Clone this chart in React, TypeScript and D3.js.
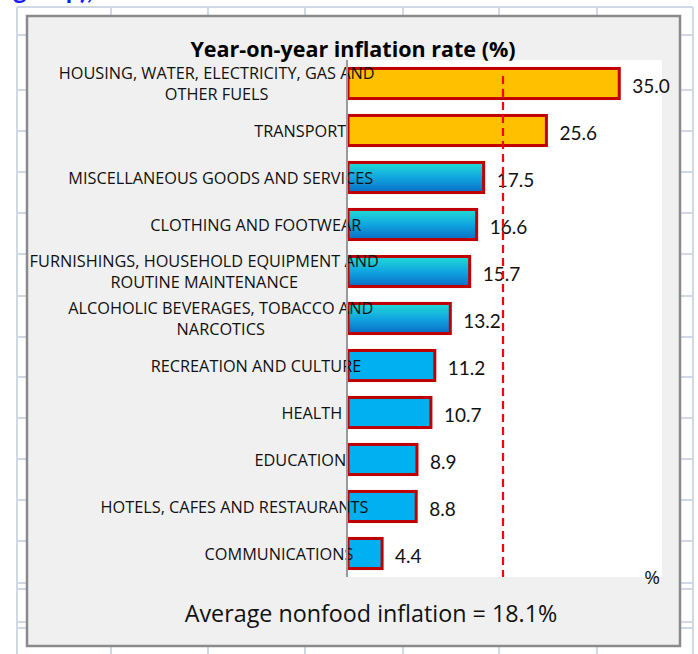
import React, { useEffect, useRef } from "react";
import * as d3 from "d3";

// ---------- data ----------
const categories = [
  "HOUSING, WATER, ELECTRICITY, GAS AND OTHER FUELS",
  "TRANSPORT",
  "MISCELLANEOUS GOODS AND SERVICES",
  "CLOTHING AND FOOTWEAR",
  "FURNISHINGS, HOUSEHOLD EQUIPMENT AND ROUTINE MAINTENANCE",
  "ALCOHOLIC BEVERAGES, TOBACCO AND NARCOTICS",
  "RECREATION AND CULTURE",
  "HEALTH",
  "EDUCATION",
  "HOTELS, CAFES AND RESTAURANTS",
  "COMMUNICATIONS",
];
const categoryLines = [
  ["HOUSING, WATER, ELECTRICITY, GAS AND", "OTHER FUELS"],
  ["TRANSPORT"],
  ["MISCELLANEOUS GOODS AND SERVICES"],
  ["CLOTHING AND FOOTWEAR"],
  ["FURNISHINGS, HOUSEHOLD EQUIPMENT AND", "ROUTINE MAINTENANCE"],
  ["ALCOHOLIC BEVERAGES, TOBACCO AND", "NARCOTICS"],
  ["RECREATION AND CULTURE"],
  ["HEALTH"],
  ["EDUCATION"],
  ["HOTELS, CAFES AND RESTAURANTS"],
  ["COMMUNICATIONS"],
];
const values = [35.0, 25.6, 17.5, 16.6, 15.7, 13.2, 11.2, 10.7, 8.9, 8.8, 4.4];
const barGroups = [
  "gold", "gold",
  "gradient", "gradient", "gradient", "gradient",
  "solid", "solid", "solid", "solid", "solid",
];
const referenceLineValue = 20;
const xDomain = [0, 40];
const chartTitle = "Year-on-year inflation rate (%)";
const footnote = "Average nonfood inflation = 18.1%";
const unitLabel = "%";
const headerText = "group),";

// ---------- layout ----------
const W = 698;
const H = 654;
const sheetCols = [17, 111, 208, 305, 403, 499, 597, 693];
const sheetRows = [7, 35, 90, 131, 172, 213, 254, 296, 337, 377, 418, 459, 500, 541, 583, 589, 622, 628];
const frame = { x: 27, y: 16, w: 653, h: 630 };
const plot = { left: 348, right: 662, top: 60, bottom: 577 };
const FONT = "'Open Sans', Lato, sans-serif";
const NUMFONT = "Lato, 'Open Sans', sans-serif";

export default function App() {
  const ref = useRef<SVGSVGElement | null>(null);

  useEffect(() => {
    const svg = d3.select(ref.current);
    svg.selectAll("*").remove();

    const defs = svg.append("defs");
    const grad = defs
      .append("linearGradient")
      .attr("id", "barGrad")
      .attr("x1", 0).attr("y1", 0).attr("x2", 0).attr("y2", 1);
    grad.append("stop").attr("offset", "0%").attr("stop-color", "#22dcd4");
    grad.append("stop").attr("offset", "50%").attr("stop-color", "#10a6e0");
    grad.append("stop").attr("offset", "100%").attr("stop-color", "#0a6cc6");

    // spreadsheet grid background
    const grid = svg.append("g").attr("stroke", "#d0d8e6").attr("stroke-width", 2);
    sheetCols.forEach((c) =>
      grid.append("line").attr("x1", c).attr("x2", c).attr("y1", sheetRows[0]).attr("y2", H)
    );
    sheetRows.forEach((r) =>
      grid.append("line").attr("x1", sheetCols[0]).attr("x2", sheetCols[sheetCols.length - 1]).attr("y1", r).attr("y2", r)
    );

    // header text (cut off at top, as in the reference)
    svg
      .append("text")
      .attr("x", 13)
      .attr("y", -1)
      .attr("font-family", NUMFONT)
      .attr("font-weight", 700)
      .attr("font-size", 26)
      .attr("fill", "#1a1aff")
      .text(headerText);

    // chart frame
    svg
      .append("rect")
      .attr("x", frame.x)
      .attr("y", frame.y)
      .attr("width", frame.w)
      .attr("height", frame.h)
      .attr("fill", "#f0f0f0")
      .attr("stroke", "#8a8a8a")
      .attr("stroke-width", 2.5);

    // plot area
    svg
      .append("rect")
      .attr("x", plot.left - 2)
      .attr("y", plot.top)
      .attr("width", plot.right - plot.left + 2)
      .attr("height", plot.bottom - plot.top)
      .attr("fill", "#ffffff");

    const x = d3.scaleLinear().domain(xDomain).range([plot.left, plot.left + 7.75 * (xDomain[1] - xDomain[0])]);
    const y = d3
      .scaleBand<string>()
      .domain(categories)
      .range([plot.top, plot.bottom])
      .paddingInner(0.36)
      .paddingOuter(0.18);

    const fillFor = (g: string) =>
      g === "gold" ? "#ffc000" : g === "gradient" ? "url(#barGrad)" : "#00b0f0";

    // bars
    svg
      .append("g")
      .selectAll("rect")
      .data(values)
      .join("rect")
      .attr("x", x(0))
      .attr("y", (_, i) => y(categories[i])!)
      .attr("width", (d) => x(d) - x(0))
      .attr("height", y.bandwidth())
      .attr("fill", (_, i) => fillFor(barGroups[i]))
      .attr("stroke", "#c00000")
      .attr("stroke-width", 3);

    // value labels
    svg
      .append("g")
      .selectAll("text")
      .data(values)
      .join("text")
      .attr("x", (d) => x(d) + 13)
      .attr("y", (_, i) => y(categories[i])! + y.bandwidth() / 2 + 2)
      .attr("dominant-baseline", "central")
      .attr("font-family", NUMFONT)
      .attr("font-size", 19)
      .attr("fill", "#111")
      .text((d) => d.toFixed(1));

    // category labels
    const labG = svg.append("g");
    const lineH = 21.5;
    categoryLines.forEach((lines, i) => {
      const cy = y(categories[i])! + y.bandwidth() / 2;
      const g = labG.append("g");
      const texts = lines.map((ln, j) =>
        g
          .append("text")
          .attr("y", cy + (j - (lines.length - 1) / 2) * lineH)
          .attr("dominant-baseline", "central")
          .attr("text-anchor", "middle")
          .attr("font-family", FONT)
          .attr("font-size", 16.3)
          .attr("fill", "#111")
          .text(ln)
      );
      const w = d3.max(texts, (t) => (t.node() as SVGTextElement).getComputedTextLength()) || 0;
      const cx = 334.5 + 0.127 * w - w / 2;
      texts.forEach((t) => t.attr("x", cx));
    });

    // reference dashed line
    svg
      .append("line")
      .attr("x1", x(referenceLineValue))
      .attr("x2", x(referenceLineValue))
      .attr("y1", plot.top + 16)
      .attr("y2", plot.bottom)
      .attr("stroke", "#ff0000")
      .attr("stroke-width", 2.2)
      .attr("stroke-dasharray", "8,5");

    // axis line
    svg
      .append("line")
      .attr("x1", plot.left - 1)
      .attr("x2", plot.left - 1)
      .attr("y1", plot.top)
      .attr("y2", plot.bottom)
      .attr("stroke", "#9a9a9a")
      .attr("stroke-width", 2);

    // title
    svg
      .append("text")
      .attr("x", 353)
      .attr("y", 57)
      .attr("text-anchor", "middle")
      .attr("font-family", FONT)
      .attr("font-weight", 700)
      .attr("font-size", 21.5)
      .attr("fill", "#000")
      .text(chartTitle);

    // unit label
    svg
      .append("text")
      .attr("x", 652)
      .attr("y", 584)
      .attr("text-anchor", "middle")
      .attr("font-family", FONT)
      .attr("font-size", 19)
      .attr("fill", "#111")
      .text(unitLabel);

    // footnote
    svg
      .append("text")
      .attr("x", 371)
      .attr("y", 622)
      .attr("text-anchor", "middle")
      .attr("font-family", FONT)
      .attr("font-size", 23.3)
      .attr("fill", "#111")
      .text(footnote);
  }, []);

  return (
    <svg
      ref={ref}
      width={W}
      height={H}
      style={{ position: "absolute", left: 0, top: 0, background: "#fff", overflow: "hidden" }}
    />
  );
}
